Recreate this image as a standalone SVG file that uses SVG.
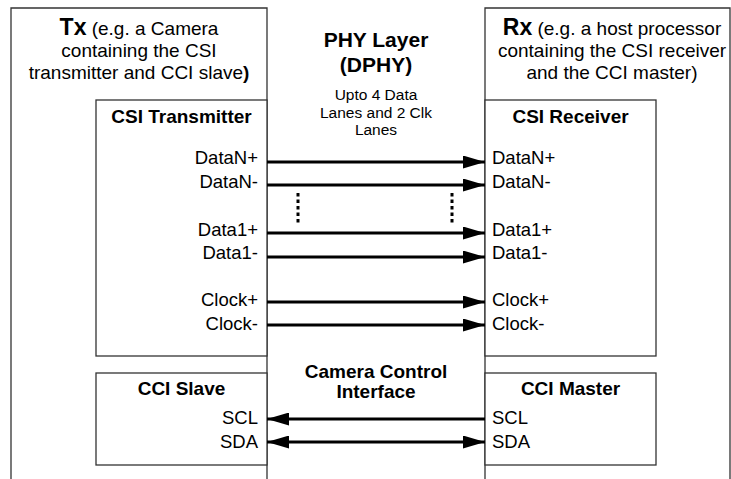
<svg xmlns="http://www.w3.org/2000/svg" width="731" height="479" viewBox="0 0 731 479">
<style>
.box{fill:#fff;stroke:#333;stroke-width:1.3}
.edge{fill:none;stroke:#333;stroke-width:1.3}
text{font-family:"Liberation Sans",Arial,sans-serif;fill:#000}
.desc{font-size:19px;text-anchor:middle}
.big{font-size:23px;font-weight:bold}
.head{font-size:19px;font-weight:bold;text-anchor:middle}
.phy{font-size:21px;font-weight:bold;text-anchor:middle}
.small{font-size:15.5px;text-anchor:middle}
.sigl{font-size:18.5px;text-anchor:end}
.sigr{font-size:18.5px;text-anchor:start}
.wire{stroke:#000;stroke-width:3;fill:none}
.dots{stroke:#000;stroke-width:3;stroke-dasharray:3.5 3;fill:none}
</style>
<defs>
<marker id="ah" markerUnits="userSpaceOnUse" markerWidth="22" markerHeight="13" refX="22" refY="6.5" orient="auto-start-reverse">
<path d="M0,0 L22,6.5 L0,13 z" fill="#000"/>
</marker>
</defs>
<rect width="731" height="479" fill="#fff"/>
<g id="tx">
<path class="edge" d="M11,480 V8 H267 V480"/>
<text class="desc" x="139" y="35"><tspan class="big">Tx</tspan> (e.g. a Camera</text>
<text class="desc" x="139" y="57">containing the CSI</text>
<text class="desc" x="139" y="79">transmitter and CCI slave<tspan font-weight="bold">)</tspan></text>
</g>
<g id="rx">
<path class="edge" d="M485,480 V8 H730 V480"/>
<text class="desc" x="612" y="35"><tspan class="big">Rx</tspan> (e.g. a host processor</text>
<text class="desc" x="612" y="57">containing the CSI receiver</text>
<text class="desc" x="612" y="79">and the CCI master)</text>
</g>
<g id="csi-tx">
<rect class="box" x="96" y="100" width="171" height="256"/>
<text class="head" x="181.5" y="123">CSI Transmitter</text>
<text class="sigl" x="258" y="164">DataN+</text>
<text class="sigl" x="258" y="188">DataN-</text>
<text class="sigl" x="258" y="236">Data1+</text>
<text class="sigl" x="258" y="259">Data1-</text>
<text class="sigl" x="258" y="306">Clock+</text>
<text class="sigl" x="258" y="330">Clock-</text>
</g>
<g id="csi-rx">
<rect class="box" x="485" y="100" width="171" height="256"/>
<text class="head" x="570.5" y="123">CSI Receiver</text>
<text class="sigr" x="492" y="164">DataN+</text>
<text class="sigr" x="492" y="188">DataN-</text>
<text class="sigr" x="492" y="236">Data1+</text>
<text class="sigr" x="492" y="259">Data1-</text>
<text class="sigr" x="492" y="306">Clock+</text>
<text class="sigr" x="492" y="330">Clock-</text>
</g>
<g id="cci-slave">
<rect class="box" x="96" y="373" width="171" height="92"/>
<text class="head" x="181.5" y="395">CCI Slave</text>
<text class="sigl" x="258" y="424">SCL</text>
<text class="sigl" x="258" y="448">SDA</text>
</g>
<g id="cci-master">
<rect class="box" x="485" y="373" width="171" height="92"/>
<text class="head" x="570.5" y="395">CCI Master</text>
<text class="sigr" x="492" y="424">SCL</text>
<text class="sigr" x="492" y="448">SDA</text>
</g>
<g id="phy-layer">
<text class="phy" x="376" y="47">PHY Layer</text>
<text class="phy" x="376" y="72">(DPHY)</text>
<text class="small" x="376" y="100">Upto 4 Data</text>
<text class="small" x="376" y="118">Lanes and 2 Clk</text>
<text class="small" x="376" y="135">Lanes</text>
</g>
<g id="cci-label">
<text class="head" x="376" y="378">Camera Control</text>
<text class="head" x="376" y="398">Interface</text>
</g>
<g id="connectors">
<line class="wire" x1="267" y1="162" x2="485" y2="162" marker-end="url(#ah)"/>
<line class="wire" x1="267" y1="185" x2="485" y2="185" marker-end="url(#ah)"/>
<line class="wire" x1="267" y1="233" x2="485" y2="233" marker-end="url(#ah)"/>
<line class="wire" x1="267" y1="257" x2="485" y2="257" marker-end="url(#ah)"/>
<line class="wire" x1="267" y1="302" x2="485" y2="302" marker-end="url(#ah)"/>
<line class="wire" x1="267" y1="325" x2="485" y2="325" marker-end="url(#ah)"/>
<line class="dots" x1="298" y1="193" x2="298" y2="224"/>
<line class="dots" x1="452" y1="193" x2="452" y2="224"/>
<line class="wire" x1="485" y1="419" x2="267" y2="419" marker-end="url(#ah)"/>
<line class="wire" x1="267" y1="442" x2="485" y2="442" marker-start="url(#ah)" marker-end="url(#ah)"/>
</g>
</svg>
